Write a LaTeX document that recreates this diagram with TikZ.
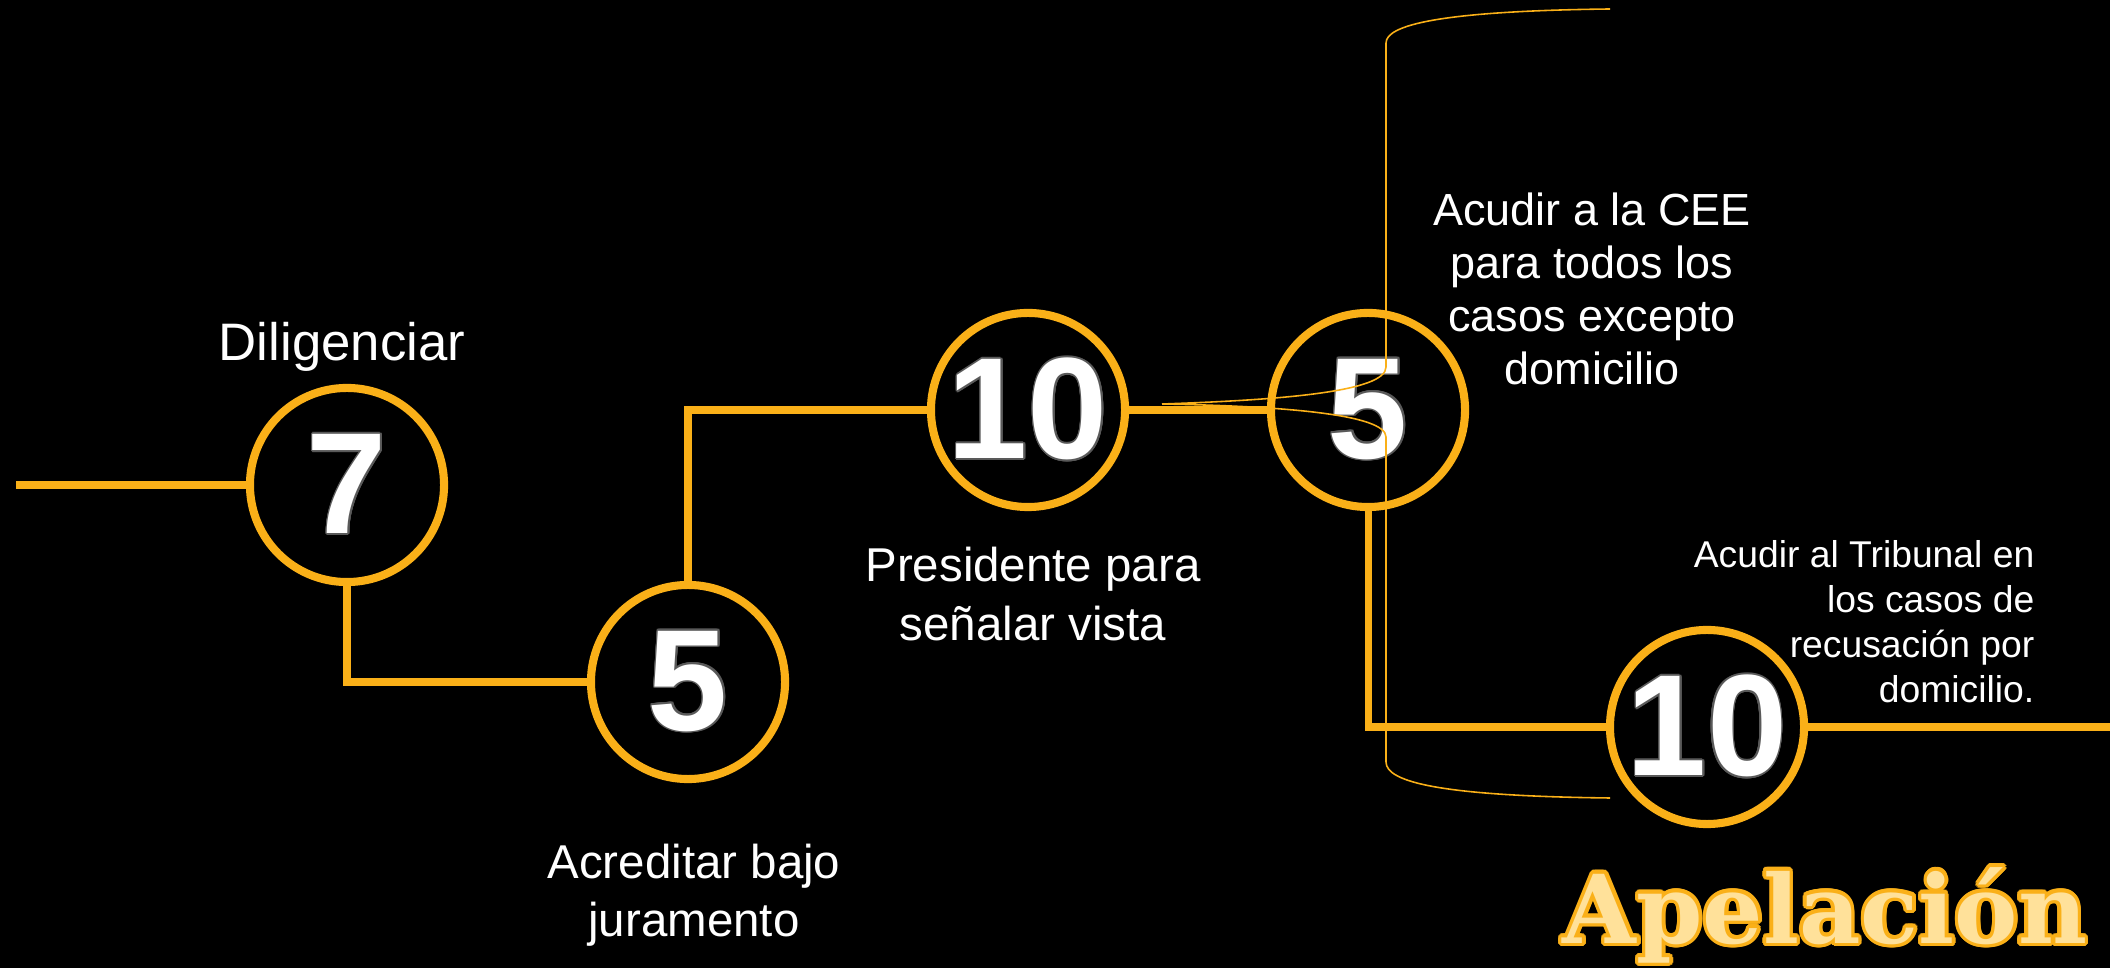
\documentclass[tikz,border=0pt]{standalone}
\usepackage{fontspec}
\setmainfont{Liberation Sans}
\newfontfamily\titlefont{DejaVu Serif}
\usepackage{contour}
\contourlength{0.5pt}

\definecolor{stepOrange}{RGB}{250,176,24}
\definecolor{titleFill}{RGB}{255,225,154}

\newcommand{\stepnum}[1]{\contour{black!65}{#1}}

\tikzset{
  stepcircle/.style={circle, draw=stepOrange, line width=2.3pt, minimum size=1.94cm,
    inner sep=0pt, text=white, font=\fontsize{41}{41}\selectfont\bfseries},
  stepline/.style={draw=stepOrange, line width=2pt},
  steptext/.style={text=white, align=center, font=\fontsize{13.5}{16.6}\selectfont},
}

\begin{document}
\begin{tikzpicture}[x=0.01cm, y=-0.01cm]
            \fill[black] (0, 0) rectangle (2110, 968);
            \useasboundingbox (0, 0) rectangle (2110, 968);

            \node[stepcircle] (c7) at (347, 485) {\stepnum{7}};
            \node[stepcircle] (c5a) at (688, 682) {\stepnum{5}};
            \node[stepcircle] (c10a) at (1028, 410) {\stepnum{10}};
            \node[stepcircle] (c5b) at (1368, 410) {\stepnum{5}};
            \node[stepcircle] (c10b) at (1707, 727) {\stepnum{10}};
            \coordinate (start) at (16, 485);
            \coordinate (finish) at (2110, 727);

            \draw[stepline] (start) -- (c7);
            \draw[stepline] (c7) |- (c5a);
            \draw[stepline] (c5a) |- (c10a);
            \draw[stepline] (c10a) -- (c5b);
            \draw[stepline] (c5b) |- (c10b);
            \draw[stepline] (c10b) -- (finish);

            \node[steptext, anchor=base, font=\fontsize{15}{18}\selectfont] (tDil) at (342, 361) {Diligenciar};
            \node[steptext] (tAcr) at (694, 895) {Acreditar bajo\\juramento};
            \node[steptext] (tPre) at (1033, 594) {Presidente para\\señalar vista};
            \node[steptext, font=\fontsize{12.8}{15}\selectfont] (tCee) at (1592, 289)
                {Acudir a la CEE\\para todos los\\casos excepto\\domicilio};
            \node[steptext, align=right, anchor=east, inner sep=0pt, font=\fontsize{10.6}{12.8}\selectfont] (tTri) at (2035, 622)
                {Acudir al Tribunal en\\los casos de\\recusación por\\domicilio.};

            % thin brace over the second step
            \draw[stepOrange, line width=0.45pt]
                (1610, 9) .. controls (1440, 11) and (1386, 25) .. (1386, 43) -- (1386, 367)
                .. controls (1386, 392) and (1280, 400) .. (1162, 404)
                .. controls (1280, 406) and (1386, 414) .. (1386, 437) -- (1386, 762)
                .. controls (1386, 782) and (1440, 796) .. (1610, 798);

            \node[text=titleFill, anchor=base, font=\titlefont\bfseries\fontsize{27}{27}\selectfont] (title) at (1825, 943)
                {\contourlength{1pt}\contour{stepOrange}{Apelación}};
\end{tikzpicture}
\end{document}
